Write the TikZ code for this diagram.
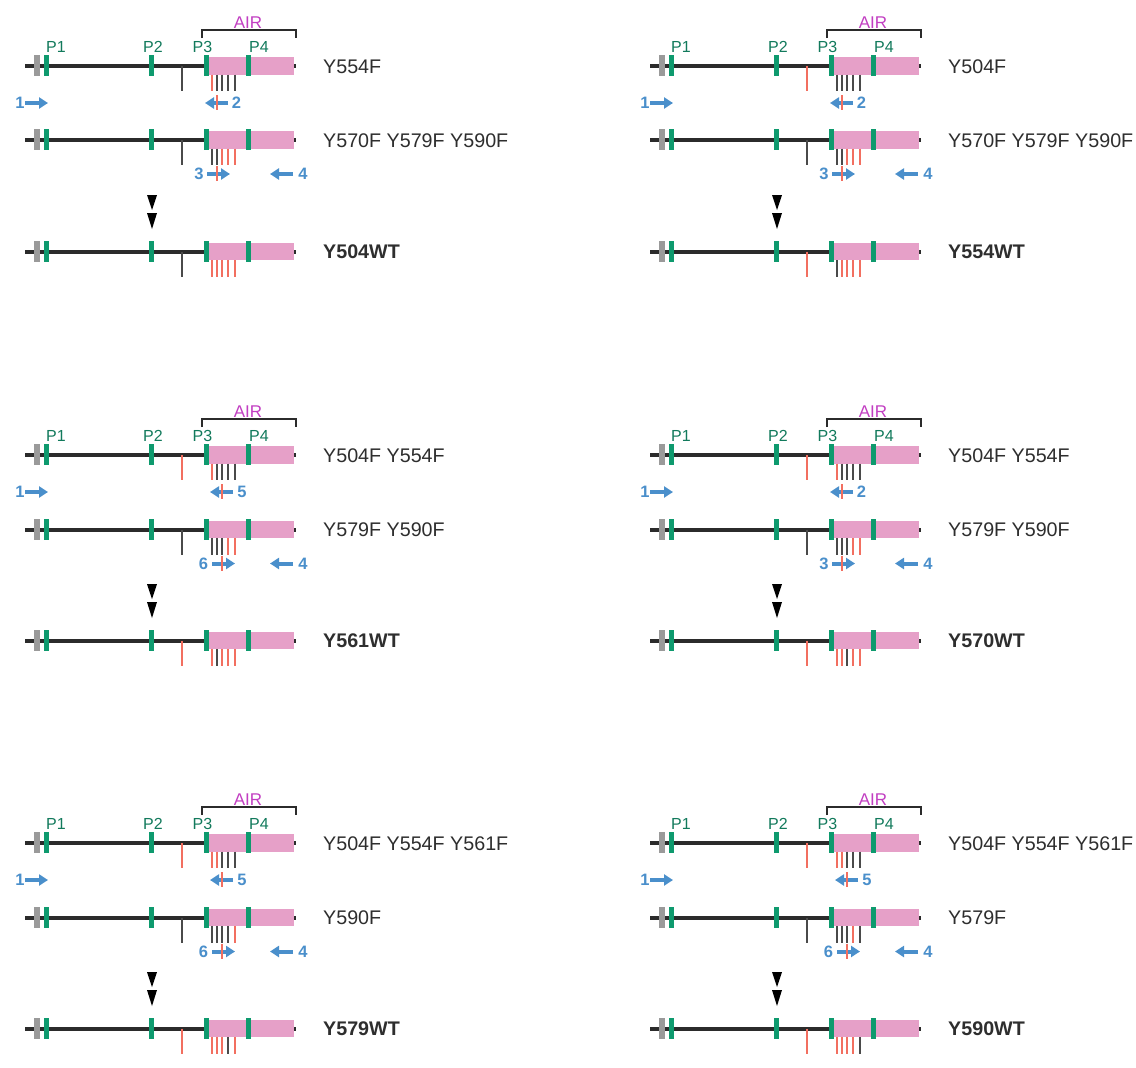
\documentclass[tikz,border=0pt]{standalone}
\usepackage{fontspec}
\setmainfont{Liberation Sans}
\usetikzlibrary{arrows.meta}
\definecolor{lineC}{HTML}{2B2B2B}
\definecolor{grayC}{HTML}{9A9A9A}
\definecolor{greenC}{HTML}{0E9A6E}
\definecolor{plabC}{HTML}{127A5C}
\definecolor{pinkC}{HTML}{E6A0C8}
\definecolor{R}{HTML}{F26F60}
\definecolor{K}{HTML}{4A4A4A}
\definecolor{blueC}{HTML}{4A8FCB}
\definecolor{airC}{HTML}{C23EC2}
\definecolor{textC}{HTML}{2E2E2E}
\tikzset{
  mutlab/.style={anchor=base west, font=\fontsize{19.7}{19.7}\selectfont, text=textC, inner sep=0pt},
  wtlab/.style={anchor=base west, font=\fontsize{19.7}{19.7}\selectfont\bfseries, text=textC, inner sep=0pt},
  plab/.style={font=\fontsize{16}{16}\selectfont, text=plabC, inner sep=0pt},
  airlab/.style={font=\fontsize{17}{17}\selectfont, text=airC, inner sep=0pt},
  numlab/.style={font=\fontsize{16.5}{16.5}\selectfont\bfseries, text=blueC, inner sep=0pt},
  primer/.style={draw=blueC, line width=4pt, -{Triangle[width=11pt,length=9pt]}},
  tickline/.style={line width=2pt},
  redmk/.style={draw=R, line width=2pt}
}
% gene line: #1 name, #2 y, #3 tick colours T0..T5, #4 label, #5 label style
\newcommand\geneline[5]{%
  \fill[lineC] (25,#2-2) rectangle (296,#2+2);
  \fill[grayC] (34,#2-11) rectangle (40,#2+10);
  \fill[pinkC] (209,#2-9) rectangle (294,#2+8.5);
  \foreach \gx in {44,149,204,246} {\fill[greenC] (\gx,#2-11) rectangle (\gx+5,#2+10);}
  \foreach \tc [count=\ti from 0] in {#3} {%
    \pgfmathsetmacro\tx{{182,212.3,216.8,222.4,228.4,235}[\ti]}%
    \ifnum\ti=0
      \draw[tickline,\tc] (\tx,#2) -- (\tx,#2+25);
    \else
      \draw[tickline,\tc] (\tx,#2+8.5) -- (\tx,#2+25);
    \fi
  }
  \node[#5] (#1) at (323,#2+7) {#4};
}
\newcommand\panelbase[1]{%
  \draw[lineC, line width=2pt] (202,38) -- (202,30) -- (296,30) -- (296,38);
  \node[airlab] (#1air) at (248,22.5) {AIR};
  \node[plab] (#1p1) at (56,47) {P1};
  \node[plab] (#1p2) at (153,47) {P2};
  \node[plab] (#1p3) at (202.5,47) {P3};
  \node[plab] (#1p4) at (259,47) {P4};
  \fill[black] (147,195) -- (157,195) -- (152,210) -- cycle;
  \fill[black] (147,213) -- (157,213) -- (152,229) -- cycle;
}
\newcommand\pOne[2]{\node[numlab] (#1) at (20,#2) {1}; \draw[primer] (25,#2) -- (48,#2);}
\newcommand\pTwo[2]{\node[numlab] (#1) at (236.5,#2) {2}; \draw[primer] (228,#2) -- (205,#2); \draw[redmk] (217,#2-8) -- (217,#2+7);}
\newcommand\pThree[2]{\node[numlab] (#1) at (199,#2) {3}; \draw[primer] (207,#2) -- (230,#2); \draw[redmk] (217,#2-8) -- (217,#2+7);}
\newcommand\pFour[2]{\node[numlab] (#1) at (303,#2) {4}; \draw[primer] (293,#2) -- (270,#2);}
\newcommand\pFive[2]{\node[numlab] (#1) at (242,#2) {5}; \draw[primer] (233,#2) -- (210,#2); \draw[redmk] (222,#2-8) -- (222,#2+7);}
\newcommand\pSix[2]{\node[numlab] (#1) at (203.5,#2) {6}; \draw[primer] (212,#2) -- (235,#2); \draw[redmk] (222,#2-8) -- (222,#2+7);}
\begin{document}
\begin{tikzpicture}[x=1pt,y=-1pt]
\useasboundingbox (0,0) rectangle (1136,1068);
\fill[white] (0,0) rectangle (1136,1068);
% panel A
\begin{scope}[shift={(0,0)}]
  \panelbase{a}
  \geneline{a1}{66}{K,R,K,K,K,K}{Y554F}{mutlab}
  \geneline{a2}{140}{K,K,K,R,R,R}{Y570F Y579F Y590F}{mutlab}
  \geneline{a3}{251.5}{K,R,R,R,R,R}{Y504WT}{wtlab}
  \pOne{an1}{103}\pTwo{an2}{103}\pThree{an3}{174}\pFour{an4}{174}
\end{scope}
% panel B
\begin{scope}[shift={(625,0)}]
  \panelbase{b}
  \geneline{b1}{66}{R,K,K,K,K,K}{Y504F}{mutlab}
  \geneline{b2}{140}{K,K,K,R,R,R}{Y570F Y579F Y590F}{mutlab}
  \geneline{b3}{251.5}{R,K,R,R,R,R}{Y554WT}{wtlab}
  \pOne{bn1}{103}\pTwo{bn2}{103}\pThree{bn3}{174}\pFour{bn4}{174}
\end{scope}
% panel C
\begin{scope}[shift={(0,389)}]
  \panelbase{c}
  \geneline{c1}{66}{R,R,K,K,K,K}{Y504F Y554F}{mutlab}
  \geneline{c2}{140.5}{K,K,K,K,R,R}{Y579F Y590F}{mutlab}
  \geneline{c3}{251.5}{R,R,K,R,R,R}{Y561WT}{wtlab}
  \pOne{cn1}{103}\pFive{cn5}{103}\pSix{cn6}{174.5}\pFour{cn4}{174.5}
\end{scope}
% panel D
\begin{scope}[shift={(625,389)}]
  \panelbase{d}
  \geneline{d1}{66}{R,R,K,K,K,K}{Y504F Y554F}{mutlab}
  \geneline{d2}{140.5}{K,K,K,K,R,R}{Y579F Y590F}{mutlab}
  \geneline{d3}{251.5}{R,R,R,K,R,R}{Y570WT}{wtlab}
  \pOne{dn1}{103}\pTwo{dn2}{103}\pThree{dn3}{174.5}\pFour{dn4}{174.5}
\end{scope}
% panel E
\begin{scope}[shift={(0,777)}]
  \panelbase{e}
  \geneline{e1}{66}{R,R,R,K,K,K}{Y504F Y554F Y561F}{mutlab}
  \geneline{e2}{140.5}{K,K,K,K,K,R}{Y590F}{mutlab}
  \geneline{e3}{251.5}{R,R,R,R,K,R}{Y579WT}{wtlab}
  \pOne{en1}{103}\pFive{en5}{103}\pSix{en6}{174.5}\pFour{en4}{174.5}
\end{scope}
% panel F
\begin{scope}[shift={(625,777)}]
  \panelbase{f}
  \geneline{f1}{66}{R,R,R,K,K,K}{Y504F Y554F Y561F}{mutlab}
  \geneline{f2}{140.5}{K,K,K,K,R,K}{Y579F}{mutlab}
  \geneline{f3}{251.5}{R,R,R,R,R,K}{Y590WT}{wtlab}
  \pOne{fn1}{103}\pFive{fn5}{103}\pSix{fn6}{174.5}\pFour{fn4}{174.5}
\end{scope}
\end{tikzpicture}
\end{document}
